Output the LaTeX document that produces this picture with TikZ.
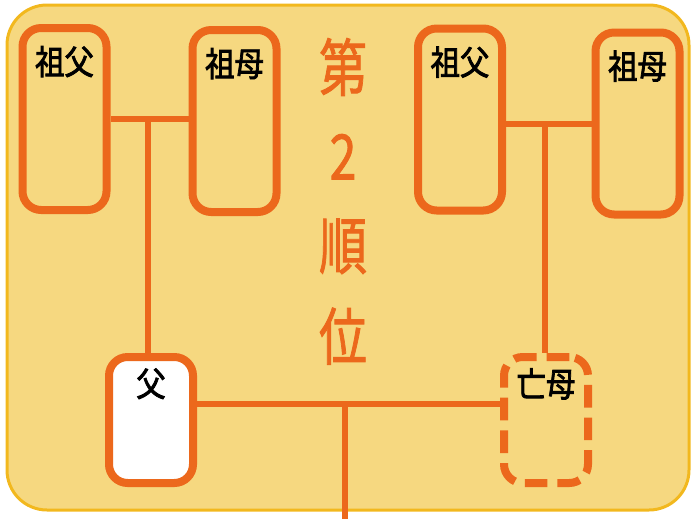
\documentclass[tikz,border=0pt]{standalone}
\usepackage{fontspec}
\newfontfamily\jpfont[FakeBold=2.5]{Noto Sans CJK JP}
\newfontfamily\jpranks[FakeBold=1.5]{Noto Sans CJK JP}
\usetikzlibrary{positioning,calc}
\definecolor{kaki}{RGB}{236,104,28}
\definecolor{bgyellow}{RGB}{246,216,128}
\definecolor{bggold}{RGB}{242,184,30}
\pgfdeclarelayer{back}
\pgfdeclarelayer{links}
\pgfsetlayers{back,links,main}

\begin{document}
\begin{tikzpicture} [x=0.75pt,y=-0.75pt,line width=4.5pt,
  person/.style={draw=kaki,fill=bgyellow,line width=6pt,rounded corners=14pt,inner sep=0pt,minimum width=63pt,minimum height=136.5pt},
  nametag/.style={font=\jpfont\fontsize{22}{22}\selectfont,text=black},
  ranktag/.style={font=\jpranks\fontsize{36}{36}\selectfont,text=kaki,inner sep=0pt},
  link/.style={draw=kaki,line width=4.5pt}]

  \useasboundingbox (0,0) rectangle (692,518);
  \begin{pgfonlayer}{back}
    \draw[fill=bgyellow,draw=bggold,line width=2.25pt,rounded corners=30pt] (7,5) rectangle (689,510);
  \end{pgfonlayer}

  % 2nd rank text
  \foreach \ch [count=\i] in {第,2,順,位}
    \node[ranktag] (rank\i) at (343,{67+89.7*(\i-1)}) {\scalebox{1}[1.3]{\ch}};

  \node[person] (gfL) at (64.5,119) {};
  \node[person] (gmL) at (234.5,121) {};
  \node[person] (gfR) at (460,119.5) {};
  \node[person] (gmR) at (637.5,123.5) {};
  \node[person,fill=white,minimum height=94.5pt] (dad) at (151,420) {};
  \node[person,minimum height=94.5pt,dash pattern=on 17pt off 7.5pt] (mom) at (546,420) {};

  % names
  \node[nametag] (gfLname) [below=13pt of gfL.north] {\scalebox{1}[1.15]{祖父}};
  \node[nametag] (gmLname) [below=13pt of gmL.north] {\scalebox{1}[1.15]{祖母}};
  \node[nametag] (gfRname) [below=13pt of gfR.north] {\scalebox{1}[1.15]{祖父}};
  \node[nametag] (gmRname) [below=13pt of gmR.north] {\scalebox{1}[1.15]{祖母}};
  \node[nametag] (dadname) [below=8pt of dad.north] {\scalebox{1}[1.15]{父}};
  \node[nametag] (momname) [below=8pt of mom.north] {\scalebox{1}[1.15]{亡母}};

  % connectors, under the boxes
  \coordinate (coupleL) at ($(gfL.east)!0.5!(gfL.east -| gmL.west)$);
  \coordinate (coupleR) at ([xshift=-1pt]mom.north |- gmR.west);
  \coordinate (parents) at (345,404);
  \coordinate (child) at (345,520);

  \begin{pgfonlayer}{links}
  \path[link]
    (gfL.east) -- (gfL.east -| gmL.west)
    ([xshift=-1pt]coupleL) -- ([xshift=-1pt]coupleL |- dad.north)
    (gmR.west) -- (gmR.west -| gfR.east)
    (coupleR) -- (coupleR |- mom.north)
    (dad.east |- parents) -- (mom.west |- parents)
    (parents) -- (child);
  \end{pgfonlayer}

\end{tikzpicture}
\end{document}
